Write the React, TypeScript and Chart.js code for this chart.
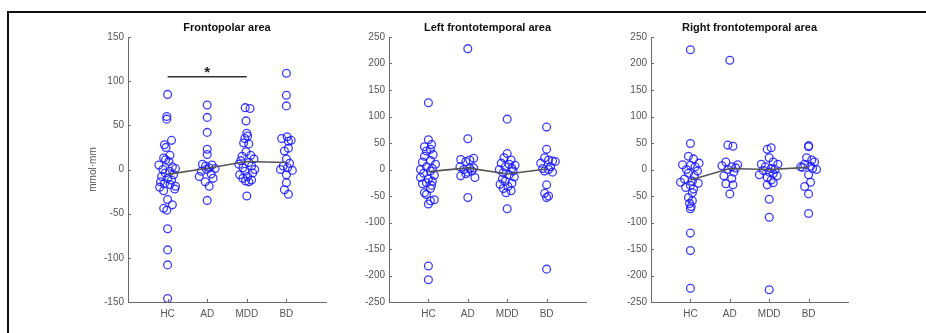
import React, { useEffect, useRef } from "react";
import { Chart, registerables } from "chart.js";

Chart.register(...registerables);

// ---------------- DATA ----------------
const categories = ["HC", "AD", "MDD", "BD"];
const panelTitles = ["Frontopolar area", "Left frontotemporal area", "Right frontotemporal area"];
const yAxisLabel = "mmol·mm";

// Frontopolar
const fpHC = [85, 60, 57, 33, 28, 25, 16, 13, 11, 9, 5, 3, 1, 0, -2, -4, -6, -8, -10, -12, -14, -16, -17, -19, -20, -22, -24, -34, -40, -44, -46, -67, -91, -108, -146];
const fpHCJit = [0, -0.02, -0.02, 0.1, -0.08, -0.04, 0.06, -0.1, -0.05, 0.03, -0.22, 0.12, 0.2, -0.12, 0.05, -0.06, 0.15, -0.15, 0, 0.1, -0.18, -0.08, 0.06, 0.2, -0.2, 0.18, -0.1, 0, 0.12, -0.1, -0.02, 0, 0, 0, 0];
const fpAD = [73, 59, 42, 23, 17, 6, 5, 4, 2, 1, 0, -2, -5, -8, -10, -14, -19, -35];
const fpADJit = [0, 0, 0, 0, 0, -0.12, 0.12, -0.04, 0.05, 0.2, -0.02, -0.15, 0.1, -0.2, 0.15, -0.05, 0.05, 0];
const fpMDD = [70, 69, 55, 41, 38, 35, 30, 29, 20, 16, 15, 12, 10, 8, 6, 4, 2, 0, -2, -4, -6, -8, -10, -12, -13, -14, -30];
const fpMDDJit = [-0.04, 0.08, -0.02, 0, 0.02, -0.05, -0.08, 0.05, -0.02, 0.1, -0.12, 0.18, -0.15, 0.05, -0.2, 0.12, -0.1, 0.2, -0.05, 0.15, -0.18, 0.02, -0.1, 0.12, -0.03, 0.05, 0];
const fpBD = [109, 84, 72, 37, 35, 33, 32, 24, 21, 12, 7, 4, 2, 0, -1, -6, -15, -23, -28];
const fpBDJit = [0, 0, 0, 0.02, -0.12, 0.12, 0.05, 0.05, -0.05, 0, 0.08, -0.08, 0.03, -0.15, 0.15, 0, 0, -0.05, 0.05];
const fpMeans = [-5.5, 1.5, 9, 8];

// Left frontotemporal
const lfHC = [126, 56, 47, 43, 38, 35, 28, 25, 17, 14, 10, 5, 2, 0, -3, -7, -11, -15, -18, -22, -25, -27, -30, -36, -44, -47, -57, -59, -65, -182, -208];
const lfHCJit = [0, 0, 0.08, -0.1, 0.05, -0.05, 0.12, -0.1, 0.05, -0.15, 0.18, -0.05, 0.1, -0.2, 0.05, -0.12, 0.15, -0.2, 0, 0.1, -0.05, -0.15, 0.08, 0.05, -0.1, -0.05, 0.15, 0.05, 0, 0, 0];
const lfAD = [228, 58, 21, 19, 18, 15, 5, 3, 2, 0, -3, -5, -8, -12, -15, -53];
const lfADJit = [0, 0, 0.15, -0.18, 0.05, -0.05, -0.2, 0.15, 0.05, -0.1, 0.1, 0, -0.05, -0.18, 0.18, 0];
const lfMDD = [95, 30, 22, 18, 12, 10, 8, 5, 2, 0, -3, -6, -10, -14, -18, -22, -26, -28, -32, -36, -40, -44, -74];
const lfMDDJit = [0, 0, -0.08, 0.1, -0.15, 0.05, 0.2, -0.05, 0.12, -0.2, 0.15, -0.1, 0.05, 0.18, -0.12, -0.05, 0.12, -0.18, 0.02, -0.1, 0.1, -0.03, 0];
const lfBD = [80, 38, 22, 18, 16, 15, 12, 5, 2, 0, -3, -5, -29, -45, -50, -53, -188];
const lfBDJit = [0, 0, -0.05, 0.05, 0.15, 0.22, -0.15, 0.1, -0.1, 0.05, -0.05, 0.15, 0, -0.05, 0.05, 0, 0];
const lfMeans = [-4, 3, -8.5, 1];

// Right frontotemporal
const rfHC = [226, 49, 25, 20, 12, 9, 8, 5, 0, -3, -7, -12, -18, -22, -24, -26, -30, -34, -37, -44, -53, -59, -64, -70, -74, -120, -153, -224];
const rfHCJit = [0, 0, -0.05, 0.08, 0.22, -0.2, 0, 0.12, -0.1, 0.18, -0.05, 0.1, -0.15, 0.05, -0.25, 0.2, 0, -0.12, 0.08, 0.05, -0.05, 0.05, -0.02, 0.02, 0, 0, 0, 0];
const rfAD = [206, 46, 44, 14, 9, 7, 5, 3, 0, -5, -12, -17, -27, -29, -46];
const rfADJit = [0, -0.05, 0.08, -0.1, 0.2, -0.2, 0.05, 0.15, -0.05, 0.1, -0.15, 0.05, -0.1, 0.08, 0];
const rfMDD = [41, 38, 22, 14, 10, 10, 5, 2, 0, -2, -5, -8, -10, -12, -15, -20, -25, -29, -56, -90, -227];
const rfMDDJit = [0.05, -0.05, 0, 0.1, -0.2, 0.22, -0.1, 0.05, 0.15, -0.15, 0, 0.1, -0.25, 0.2, -0.05, 0.05, 0.1, -0.05, 0, 0, 0];
const rfBD = [45, 43, 22, 18, 14, 10, 6, 5, 4, 2, 0, -10, -24, -32, -46, -83];
const rfBDJit = [0, 0, -0.05, 0.08, 0.15, -0.1, 0.05, -0.2, -0.15, 0.1, 0.2, 0, 0.05, -0.1, 0, 0];
const rfMeans = [-20, 2, 0, 4];

// significance bar (HC vs MDD) in frontopolar panel
const sigFrom = 1;
const sigTo = 3;
const sigLevel = 105;
const sigStarLevel = 113;
const sigText = "*";

// ---------------- LAYOUT / STYLE ----------------
const FONT = '"Liberation Sans", Arial, sans-serif';
const AXIS_COLOR = "#6a6a6a";
const TICK_COLOR = "#555555";
const POINT_COLOR = "rgba(25,25,255,0.85)";
const MEAN_COLOR = "#555555";

type Panel = {
  title: string;
  groups: [number[], number[]][];
  means: number[];
  min: number;
  max: number;
  left: number;
  width: number;
  padL: number;
  padR: number;
  showYLabel: boolean;
  sig: boolean;
};

const panels: Panel[] = [
  {
    title: panelTitles[0],
    groups: [[fpHC, fpHCJit], [fpAD, fpADJit], [fpMDD, fpMDDJit], [fpBD, fpBDJit]],
    means: fpMeans, min: -150, max: 150,
    left: 0, width: 340, padL: 88, padR: 14, showYLabel: true, sig: true,
  },
  {
    title: panelTitles[1],
    groups: [[lfHC, lfHCJit], [lfAD, lfADJit], [lfMDD, lfMDDJit], [lfBD, lfBDJit]],
    means: lfMeans, min: -250, max: 250,
    left: 340, width: 260, padL: 9, padR: 14, showYLabel: false, sig: false,
  },
  {
    title: panelTitles[2],
    groups: [[rfHC, rfHCJit], [rfAD, rfADJit], [rfMDD, rfMDDJit], [rfBD, rfBDJit]],
    means: rfMeans, min: -250, max: 250,
    left: 600, width: 326, padL: 11, padR: 78, showYLabel: false, sig: false,
  },
];

const CANVAS_H = 333;

function PanelChart({ p }: { p: Panel }) {
  const ref = useRef<HTMLCanvasElement | null>(null);
  useEffect(() => {
    if (!ref.current) return;
    const points: { x: number; y: number }[] = [];
    p.groups.forEach(([vals, jit], gi) => {
      vals.forEach((v, i) => points.push({ x: gi + 1 + (jit[i] ?? 0), y: v }));
    });
    const datasets: any[] = [
      {
        data: p.means.map((m, i) => ({ x: i + 1, y: m })),
        showLine: true,
        borderColor: MEAN_COLOR,
        borderWidth: 1.6,
        pointRadius: 0,
        fill: false,
      },
      {
        data: points,
        pointRadius: 3.9,
        pointBorderWidth: 1.3,
        pointBackgroundColor: "rgba(0,0,0,0)",
        pointBorderColor: POINT_COLOR,
        showLine: false,
      },
    ];
    if (p.sig) {
      datasets.push({
        data: [{ x: sigFrom, y: sigLevel }, { x: sigTo, y: sigLevel }],
        showLine: true,
        borderColor: "#333333",
        borderWidth: 1.6,
        pointRadius: 0,
      });
    }
    const overlay = {
      id: "overlay",
      afterDraw(chart: any) {
        const ctx = chart.ctx;
        const { left, right, top, bottom } = chart.chartArea;
        const xs = chart.scales.x;
        const ys = chart.scales.y;
        ctx.save();
        // inward tick marks
        ctx.strokeStyle = AXIS_COLOR;
        ctx.lineWidth = 1;
        ys.ticks.forEach((t: any) => {
          const y = Math.round(ys.getPixelForValue(t.value)) + 0.5;
          ctx.beginPath();
          ctx.moveTo(left, y);
          ctx.lineTo(left + 3, y);
          ctx.stroke();
        });
        categories.forEach((_, i) => {
          const x = Math.round(xs.getPixelForValue(i + 1)) + 0.5;
          ctx.beginPath();
          ctx.moveTo(x, bottom);
          ctx.lineTo(x, bottom - 3);
          ctx.stroke();
        });
        // title
        ctx.fillStyle = "#111111";
        ctx.font = `bold 11px ${FONT}`;
        ctx.textAlign = "center";
        ctx.textBaseline = "middle";
        ctx.fillText(p.title, (left + right) / 2, 28);
        // y label
        if (p.showYLabel) {
          ctx.save();
          ctx.translate(93 - p.left, (top + bottom) / 2);
          ctx.rotate(-Math.PI / 2);
          ctx.fillStyle = TICK_COLOR;
          ctx.font = `10px ${FONT}`;
          ctx.fillText(yAxisLabel, 0, 0);
          ctx.restore();
        }
        if (p.sig) {
          ctx.fillStyle = "#222222";
          ctx.font = `bold 15px ${FONT}`;
          ctx.fillText(sigText, xs.getPixelForValue((sigFrom + sigTo) / 2), ys.getPixelForValue(sigStarLevel) + 3);
        }
        ctx.restore();
      },
    };
    const chart = new Chart(ref.current, {
      type: "scatter",
      data: { datasets },
      plugins: [overlay],
      options: {
        animation: false,
        responsive: false,
        maintainAspectRatio: false,
        layout: { padding: { left: p.padL, right: p.padR, top: 37, bottom: 6 } },
        plugins: { legend: { display: false }, tooltip: { enabled: false }, title: { display: false } },
        scales: {
          x: {
            type: "linear",
            min: 0,
            max: 5,
            afterFit: (s: any) => { s.height = 25; },
            afterBuildTicks: (s: any) => { s.ticks = categories.map((_, i) => ({ value: i + 1 })); },
            ticks: {
              autoSkip: false,
              maxRotation: 0,
              padding: 6,
              color: TICK_COLOR,
              font: { family: FONT, size: 10 },
              callback: (v: any) => categories[Math.round(Number(v)) - 1] ?? "",
            },
            grid: { display: true, drawOnChartArea: false, drawTicks: false },
            border: { display: true, color: AXIS_COLOR, width: 1 },
          },
          y: {
            type: "linear",
            min: p.min,
            max: p.max,
            afterFit: (s: any) => { s.width = 40; },
            ticks: {
              stepSize: 50,
              padding: 4,
              color: TICK_COLOR,
              font: { family: FONT, size: 10 },
            },
            grid: { display: true, drawOnChartArea: false, drawTicks: false },
            border: { display: true, color: AXIS_COLOR, width: 1 },
          },
        },
      } as any,
    });
    return () => chart.destroy();
  }, [p]);
  return (
    <canvas
      ref={ref}
      width={p.width}
      height={CANVAS_H}
      style={{ position: "absolute", left: p.left, top: 0, width: p.width, height: CANVAS_H }}
    />
  );
}

export default function App() {
  return (
    <div
      style={{
        position: "fixed",
        left: 0,
        top: 0,
        width: 926,
        height: 333,
        overflow: "hidden",
        background: "#ffffff",
      }}
    >
      <div
        style={{
          position: "absolute",
          left: 7,
          top: 11,
          width: 1200,
          height: 1000,
          borderTop: "2px solid #111",
          borderLeft: "2px solid #111",
        }}
      />
      {panels.map((p, i) => (
        <PanelChart key={i} p={p} />
      ))}
    </div>
  );
}
